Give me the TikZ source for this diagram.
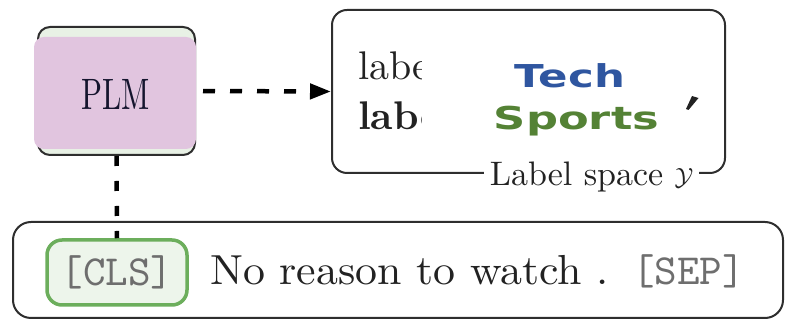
\documentclass[tikz,border=0pt]{standalone}
\usepackage{fontspec}
\usepackage{graphicx}
\usetikzlibrary{arrows.meta,calc}
% fixed 10pt design size, scaled up (heavier strokes than the display cuts)
\setmainfont{lmroman10-regular}[Extension=.otf, BoldFont=lmroman10-bold, ItalicFont=lmroman10-italic]
\setmonofont{lmmono10-regular}[Extension=.otf]
\newfontfamily\catfont{DejaVu Sans}
\definecolor{edgegray}{HTML}{2E2E2E}
\definecolor{plmpink}{HTML}{E1C5DF}
\definecolor{plmmint}{HTML}{E8F1E5}
\definecolor{plmink}{HTML}{15152E}
\definecolor{clsgreen}{HTML}{6CAE5C}
\definecolor{clsfill}{HTML}{EDF5EB}
\definecolor{tokgray}{HTML}{6E6E6E}
\definecolor{techblue}{HTML}{2F56A0}
\definecolor{sportgreen}{HTML}{548235}
\definecolor{txt}{HTML}{222222}
\begin{document}
\begin{tikzpicture}[x=1pt,y=1pt,
  panel/.style={draw=edgegray, line width=2pt, inner sep=0pt},
  dashline/.style={draw=black, line width=4.5pt, dash pattern=on 12pt off 15pt},
  bigtext/.style={font=\fontsize{40}{48}\selectfont, text=txt, inner sep=0pt},
  tttext/.style={font=\fontsize{43}{50}\selectfont\ttfamily, text=tokgray, inner sep=0pt},
  cattext/.style={font=\fontsize{31.5}{38}\selectfont\catfont\bfseries, inner sep=0pt}
]
\useasboundingbox (0,0) rectangle (786,320);

% ---- encoder block ----
\node[panel, rounded corners=12pt, fill=plmmint, minimum width=157pt, minimum height=128pt]
  (plm) at (116.5,229) {};
\fill[plmpink, rounded corners=10pt]
  ($(plm.north west)+(-3,-11)$) rectangle ($(plm.south east)+(0,7)$);
\node[font=\fontsize{44}{52}\selectfont, text=plmink, inner sep=0pt, anchor=base]
  (plmtext) at (116,210) {\scalebox{0.7}[1]{PLM}};

% ---- label space ----
\node[panel, rounded corners=15pt, minimum width=393pt, minimum height=163pt]
  (space) at (528.5,228.5) {};
\node[bigtext, anchor=base west] (lab1) at (358,240) {labe};
\node[bigtext, anchor=base west] (lab2) at (358,190) {\bfseries labe};
\node[fill=white, inner sep=0pt, minimum width=266pt, minimum height=102pt]
  (cover) at (555,226) {};
\node[cattext, text=techblue, anchor=base] (tech) at (570,232) {\scalebox{1.38}[1]{Tech}};
\node[cattext, text=sportgreen, anchor=base] (sports) at (576.5,190) {\scalebox{1.42}[1]{Sports}};
\fill[txt] (686,211) -- (692,224) -- (698.5,222) -- (688.5,210) -- cycle;
\node[fill=white, inner xsep=6pt, inner ysep=2pt, anchor=base,
  font=\fontsize{34}{40}\selectfont, text=txt]
  (spacelabel) at ($(space.south)+(63,-12)$) {Label space $\mathcal{Y}$};

% ---- input sequence ----
\node[panel, rounded corners=18pt, minimum width=770pt, minimum height=96pt]
  (inp) at (398,50) {};
\node[draw=clsgreen, line width=3.5pt, fill=clsfill, rounded corners=15pt,
  minimum width=140pt, minimum height=65pt, inner sep=0pt,
  font=\fontsize{43}{50}\selectfont\ttfamily, text=tokgray]
  (cls) at (117,47.5) {[CLS]};
\node[bigtext, font=\fontsize{42}{50}\selectfont, anchor=base west]
  (sent) at (210,35) {\scalebox{1.045}[1]{No reason to watch .}};
\node[tttext, anchor=base west] (sep) at (632,35) {[SEP]};

% ---- connectors ----
\draw[dashline, shorten <=7pt, -{Triangle[length=21pt,width=15pt]}]
  (plm.east) -- (space.west);
\draw[dashline, dash pattern=on 10pt off 15pt] (plm.south) -- (cls.north);
\end{tikzpicture}
\end{document}
